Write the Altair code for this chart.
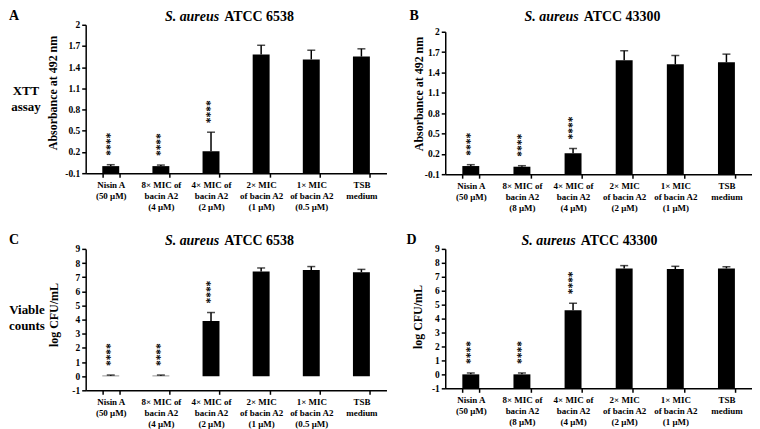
import altair as alt
import pandas as pd

FONT = "Liberation Serif"

# x categories ("|" marks a line break in the axis label)
cats_6538 = ["Nisin A|(50 μM)", "8× MIC of|bacin A2|(4 μM)", "4× MIC of|bacin A2|(2 μM)",
             "2× MIC|of bacin A2|(1 μM)", "1× MIC|of bacin A2|(0.5 μM)", "TSB|medium"]
cats_43300 = ["Nisin A|(50 μM)", "8× MIC of|bacin A2|(8 μM)", "4× MIC of|bacin A2|(4 μM)",
              "2× MIC|of bacin A2|(2 μM)", "1× MIC|of bacin A2|(1 μM)", "TSB|medium"]
stars = ["****", "****", "****", "", "", ""]

# XTT assay, absorbance at 492 nm
xtt_6538 = [0.0, 0.0, 0.21, 1.58, 1.51, 1.55]
xtt_6538_sd = [0.02, 0.015, 0.27, 0.13, 0.13, 0.11]
xtt_43300 = [0.02, 0.01, 0.21, 1.58, 1.52, 1.55]
xtt_43300_sd = [0.02, 0.015, 0.07, 0.14, 0.13, 0.12]

# viable counts, log CFU/mL
cfu_6538 = [0.03, 0.03, 3.9, 7.4, 7.5, 7.35]
cfu_6538_sd = [0.05, 0.05, 0.6, 0.25, 0.25, 0.2]
cfu_43300 = [0.0, 0.0, 4.6, 7.6, 7.55, 7.6]
cfu_43300_sd = [0.1, 0.1, 0.5, 0.2, 0.2, 0.12]

xtt_ticks = [-0.1, 0.2, 0.5, 0.8, 1.1, 1.4, 1.7, 2.0]
cfu_ticks = [-1, 0, 1, 2, 3, 4, 5, 6, 7, 8, 9]


def panel(cats, vals, errs, bar_base, domain, ticks, fmt, ytitle, tx, ty,
          strain, letter, lx, t1, w, h, rng=None, side=None):
    df = pd.DataFrame({"cat": cats, "val": vals, "err": errs, "star": stars})
    x = alt.X("cat:N", sort=cats, title=None,
              scale=alt.Scale(paddingInner=0.66, paddingOuter=0.33),
              axis=alt.Axis(labelAngle=0, tickBand="extent",
                            labelExpr="split(datum.label, '|')",
                            labelBaseline="top", labelPadding=3,
                            labelLineHeight=11, labelFontSize=9))
    if rng is None:
        sc = alt.Scale(domain=domain, nice=False, zero=False)
    else:
        sc = alt.Scale(domain=domain, nice=False, zero=False, range=rng)
    yax = alt.Axis(values=ticks, format=fmt,
                   labelExpr="replace(datum.label, '\u2212', '-')",
                   titleX=tx, titleY=ty, titleAngle=270, titleAlign="center",
                   titleBaseline="middle", labelPadding=2, labelFontSize=9.5)

    def ydef(field):
        return alt.Y(field, scale=sc, title=ytitle, axis=yax)

    base = alt.Chart(df).encode(x=x).transform_calculate(top="datum.val + datum.err")
    bars = base.mark_bar(color="black", size=17).encode(y=ydef("val:Q"), y2=alt.datum(bar_base))
    rule = base.mark_rule(color="black", strokeWidth=1.5).encode(y=ydef("val:Q"), y2="top:Q")
    cap = base.mark_tick(color="black", size=8, thickness=1.5).encode(y=ydef("top:Q"))
    star = base.mark_text(angle=270, align="left", baseline="middle", dx=9,
                          fontSize=11.5, fontWeight="bold", font=FONT, color="black").encode(
        y=ydef("top:Q"), text="star:N")

    ann = alt.Chart(pd.DataFrame({"k": [0]}))
    t_it = ann.mark_text(align="right", fontStyle="italic", fontWeight="bold",
                         fontSize=14, font=FONT, color="black").encode(
        x=alt.value(t1), y=alt.value(-8), text=alt.value("S. aureus"))
    t_rest = ann.mark_text(align="left", fontWeight="bold",
                           fontSize=14, font=FONT, color="black").encode(
        x=alt.value(t1 + 5), y=alt.value(-8), text=alt.value("ATCC " + strain))
    let = ann.mark_text(align="left", fontWeight="bold",
                        fontSize=14, font=FONT, color="black").encode(
        x=alt.value(lx), y=alt.value(-9), text=alt.value(letter))
    layers = [bars, rule, cap, star, t_it, t_rest, let]
    if side is not None:
        layers.append(ann.mark_text(align="center", fontWeight="bold", fontSize=13,
                                    font=FONT, color="black", lineBreak="\n",
                                    lineHeight=16).encode(
            x=alt.value(side[1]), y=alt.value(side[2]), text=alt.value(side[0])))
    return alt.layer(*layers).properties(width=w, height=h)


pA = panel(cats_6538, xtt_6538, xtt_6538_sd, -0.1, [-0.1, 2], xtt_ticks, ".1~f",
           "Absorbance at 492 nm", -33, 68, "6538", "A", -77, 134, 302, 149,
           side=("XTT\nassay", -60, 67))
pB = panel(cats_43300, xtt_43300, xtt_43300_sd, -0.1, [-0.1, 2], xtt_ticks, ".1~f",
           "Absorbance at 492 nm", -27, 69, "43300", "B", -36, 134, 308, 150,
           rng=[150, 7])
pC = panel(cats_6538, cfu_6538, cfu_6538_sd, 0, [-1, 9], cfu_ticks, "d",
           "log CFU/mL", -32, 66, "6538", "C", -77, 134, 302, 142,
           side=("Viable\ncounts", -59, 61))
pD = panel(cats_43300, cfu_43300, cfu_43300_sd, -1, [-1, 9], cfu_ticks, "d",
           "log CFU/mL", -28, 68, "43300", "D", -39, 131, 308, 140)

chart = alt.concat(
    pA, pB, pC, pD, columns=2, bounds="flush",
    spacing={"row": 75, "column": 59}
).properties(
    padding={"left": 0, "top": 0, "right": 0, "bottom": 0}
).configure_view(
    strokeWidth=0
).configure_axis(
    grid=False,
    domainColor="black", domainWidth=1.5,
    tickColor="black", tickWidth=1.5, tickSize=4,
    labelFont=FONT, labelFontWeight="bold", labelColor="black",
    titleFont=FONT, titleFontWeight="bold", titleColor="black", titleFontSize=12
)

chart.save("out.html", embed_options={"renderer": "svg", "actions": False})
